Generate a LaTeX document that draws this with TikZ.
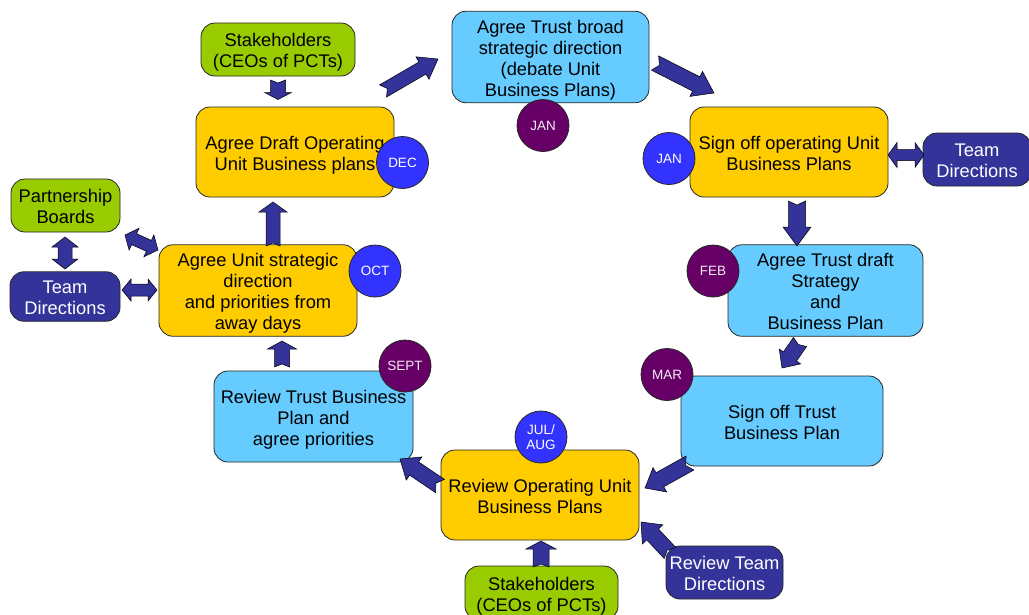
\documentclass[tikz,border=0pt]{standalone}
\usepackage{fontspec}
\setmainfont{Liberation Sans}
\usetikzlibrary{calc}
\definecolor{yel}{HTML}{FFCC00}
\definecolor{grn}{HTML}{99CC00}
\definecolor{lblue}{HTML}{66CCFF}
\definecolor{dblue}{HTML}{333399}
\definecolor{purp}{HTML}{660066}
\definecolor{cblue}{HTML}{3333FF}
\newcommand\tx[1]{\raisebox{0pt}[\dimexpr\height+7.5pt\relax][\depth]{\begin{tabular}{@{}c@{}}#1\end{tabular}}}
\tikzset{
  box/.style={draw=black!85, line width=0.8pt, rounded corners=14pt, align=center,
    inner sep=0pt, font=\fontsize{18.3}{21}\selectfont, text=black},
  yelbox/.style={box, fill=yel},
  grnbox/.style={box, fill=grn},
  lbbox/.style={box, fill=lblue},
  dbbox/.style={box, fill=dblue, text=white},
  month/.style={circle, draw=black!85, line width=0.8pt, minimum size=52pt, inner sep=0pt,
    align=center, text=white, font=\fontsize{13.5}{14.5}\selectfont},
  pmonth/.style={month, fill=purp, text=white!92!purp},
  bmonth/.style={month, fill=cblue},
  arrowsty/.style={fill=dblue, draw=black, line width=0.5pt, line join=miter},
}
% block arrow: tail, tip, shaft half width, head half width, head length, notch depth
\newcommand\blockar[6]{%
  \coordinate (ba-h) at ($(#2)!#5!(#1)$);
  \coordinate (ba-n) at ($(#1)!#6!(#2)$);
  \filldraw[arrowsty] ($(#1)!#3!90:(#2)$) -- ($(ba-h)!#3!-90:(#1)$) -- ($(ba-h)!#4!-90:(#1)$)
    -- (#2) -- ($(ba-h)!#4!90:(#1)$) -- ($(ba-h)!#3!90:(#1)$) -- ($(#1)!#3!-90:(#2)$)
    -- (ba-n) -- cycle;}
% double block arrow: end A, end B, shaft half width, head half width, head length
\newcommand\dblar[5]{%
  \coordinate (da-1) at ($(#1)!#5!(#2)$);
  \coordinate (da-2) at ($(#2)!#5!(#1)$);
  \filldraw[arrowsty] (#1) -- ($(da-1)!#4!90:(#2)$) -- ($(da-1)!#3!90:(#2)$)
    -- ($(da-2)!#3!-90:(#1)$) -- ($(da-2)!#4!-90:(#1)$) -- (#2)
    -- ($(da-2)!#4!90:(#1)$) -- ($(da-2)!#3!90:(#1)$) -- ($(da-1)!#3!-90:(#2)$)
    -- ($(da-1)!#4!-90:(#2)$) -- cycle;}
\begin{document}
\begin{tikzpicture}[x=1pt,y=-1pt]
\useasboundingbox[fill=white] (0,0) rectangle (1029,614);

% boxes
\node[grnbox, minimum width=154pt, minimum height=53pt] (stk1) at (278,49.5) {\tx{Stakeholders\\(CEOs of PCTs)}};
\node[yelbox, minimum width=198pt, minimum height=90pt] (draft) at (295,152) {\tx{Agree Draft Operating\\Unit Business plans}};
\node[lbbox, minimum width=197pt, minimum height=90pt] (broad) at (550.5,57) {\tx{Agree Trust broad\\strategic direction\\(debate Unit\\Business Plans)}};
\node[yelbox, minimum width=198pt, minimum height=90pt] (signop) at (789,152) {\tx{Sign off operating Unit\\Business Plans}};
\node[dbbox, minimum width=108pt, minimum height=53pt] (teamR) at (977,159.5) {\tx{Team\\Directions}};
\node[lbbox, minimum width=195pt, minimum height=91pt] (tdraft) at (825.5,290.5) {\tx{Agree Trust draft\\Strategy\\and\\Business Plan}};
\node[lbbox, minimum width=202pt, minimum height=90pt] (signtr) at (782,421) {\tx{Sign off Trust\\Business Plan}};
\node[yelbox, minimum width=198pt, minimum height=90pt] (revop) at (540,495) {\tx{Review Operating Unit\\Business Plans}};
\node[grnbox, minimum width=153pt, minimum height=54pt] (stk2) at (541.5,593) {\tx{Stakeholders\\(CEOs of PCTs)}};
\node[dbbox, minimum width=117pt, minimum height=53pt] (revteam) at (724.5,572.5) {\tx{Review Team\\Directions}};
\node[lbbox, minimum width=199pt, minimum height=91pt] (revtr) at (313.5,416.5) {\tx{Review Trust Business\\Plan and\\agree priorities}};
\node[yelbox, minimum width=198pt, minimum height=91pt] (unit) at (258,290.5) {\tx{Agree Unit strategic\\direction\\and priorities from\\away days}};
\node[grnbox, minimum width=109pt, minimum height=53pt] (pb) at (65.5,205.5) {\tx{Partnership\\Boards}};
\node[dbbox, minimum width=110pt, minimum height=49pt] (teamL) at (65,296.5) {\tx{Team\\Directions}};

% month circles
\node[bmonth] (dec) at (402.5,162.5) {DEC};
\node[bmonth] (oct) at (375,271) {OCT};
\node[pmonth] (jan1) at (543,125.5) {JAN};
\node[bmonth] (jan2) at (669,158.5) {JAN};
\node[pmonth] (feb) at (713,271) {FEB};
\node[pmonth] (sept) at (405,366) {SEPT};
\node[pmonth] (mar) at (667,374.5) {MAR};
\node[bmonth] (julaug) at (541,437) {JUL/\\AUG};

% arrow end points
\coordinate (a0) at (278,80);   \coordinate (a1) at (278,99.5);
\coordinate (b0) at (383,91);   \coordinate (b1) at (438,59);
\coordinate (c0) at (655,63);   \coordinate (c1) at (714,93);
\coordinate (d0) at (888,155);  \coordinate (d1) at (924,155);
\coordinate (e0) at (797,201);  \coordinate (e1) at (797,246);
\coordinate (f0) at (800,342);  \coordinate (f1) at (782,368);
\coordinate (g0) at (690,463);  \coordinate (g1) at (645,488);
\coordinate (h0) at (670,553);  \coordinate (h1) at (641,522);
\coordinate (i0) at (541,567);  \coordinate (i1) at (541,541);
\coordinate (j0) at (440,486);  \coordinate (j1) at (400,459);
\coordinate (k0) at (282,367);  \coordinate (k1) at (282,341);
\coordinate (l0) at (273,246);  \coordinate (l1) at (273,202);
\coordinate (m0) at (65,237);   \coordinate (m1) at (65,269);
\coordinate (n0) at (125,235);  \coordinate (n1) at (158,250);
\coordinate (o0) at (122,290);  \coordinate (o1) at (157,290);

\blockar{a0}{a1}{7.5pt}{13.5pt}{7pt}{3pt}
\blockar{b0}{b1}{7pt}{13pt}{18pt}{5pt}
\blockar{c0}{c1}{8pt}{14pt}{20pt}{5pt}
\dblar{d0}{d1}{5.5pt}{12.5pt}{9pt}
\blockar{e0}{e1}{8.5pt}{14pt}{19pt}{4pt}
\blockar{f0}{f1}{8pt}{13pt}{14pt}{3pt}
\blockar{g0}{g1}{8pt}{14pt}{17pt}{5pt}
\blockar{h0}{h1}{8pt}{14pt}{17pt}{4pt}
\blockar{i0}{i1}{8pt}{15pt}{8pt}{3pt}
\blockar{j0}{j1}{8pt}{14pt}{17pt}{5pt}
\blockar{k0}{k1}{7.5pt}{14.5pt}{8pt}{3pt}
\blockar{l0}{l1}{7pt}{14pt}{10pt}{3pt}
\dblar{m0}{m1}{7pt}{13pt}{10pt}
\dblar{n0}{n1}{6pt}{12pt}{10pt}
\dblar{o0}{o1}{6pt}{11pt}{9pt}
\end{tikzpicture}
\end{document}
